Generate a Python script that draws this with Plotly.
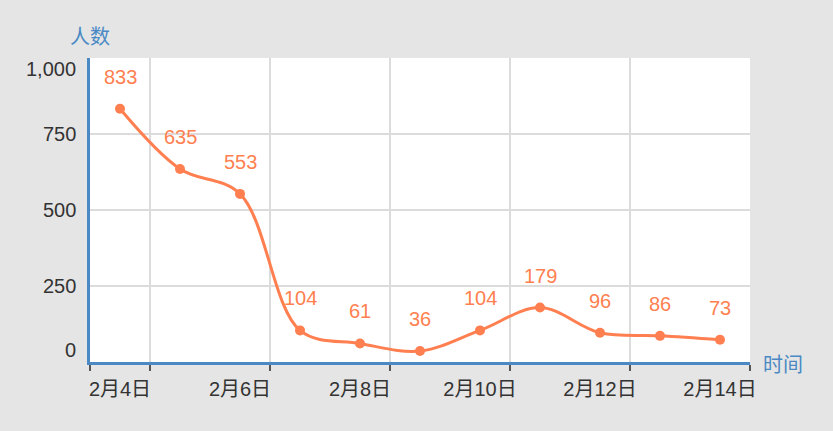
import plotly.graph_objects as go

# ---- data ----
dates = ["2月4日", "2月5日", "2月6日", "2月7日", "2月8日", "2月9日",
         "2月10日", "2月11日", "2月12日", "2月13日", "2月14日"]
counts = [833, 635, 553, 104, 61, 36, 104, 179, 96, 86, 73]
y_ticks = [0, 250, 500, 750, 1000]
y_tick_labels = ["0", "250", "500", "750", "1,000"]
y_name = "人数"
x_name = "时间"

# ---- styles ----
LINE = "#ff7f50"
AXIS = "#4a89c4"
GRID = "#dcdcdc"
TXT = "#333333"
FONT = "Liberation Sans, Arial, Noto Sans CJK SC, sans-serif"
FS = 20

idx = list(range(len(dates)))
label_pos = idx[::2]
label_txt = dates[::2]
minor_pos = [-0.5] + [i + 0.5 for i in range(0, len(dates), 2)]

fig = go.Figure()
fig.add_trace(go.Scatter(
    x=idx, y=counts, mode="lines+markers",
    line=dict(color=LINE, width=3, shape="spline", smoothing=1),
    marker=dict(color=LINE, size=10),
    hoverinfo="skip", showlegend=False,
))

annotations = []
for i, v in zip(idx, counts):
    annotations.append(dict(x=i, y=v, xref="x", yref="y", text=str(v),
                            showarrow=False, yshift=32,
                            font=dict(color=LINE, size=FS, family=FONT)))
for v, t in zip(y_ticks, y_tick_labels):
    shift = -11 if v == max(y_ticks) else (12 if v == min(y_ticks) else 0)
    annotations.append(dict(x=0, y=v, xref="paper", yref="y", text=t,
                            showarrow=False, xanchor="right", yanchor="middle",
                            xshift=-12, yshift=shift,
                            font=dict(color=TXT, size=FS, family=FONT)))
annotations.append(dict(x=0, y=1, xref="paper", yref="paper", text=y_name,
                        showarrow=False, xanchor="center", yanchor="middle",
                        yshift=21, font=dict(color=AXIS, size=FS, family=FONT)))
annotations.append(dict(x=1, y=0, xref="paper", yref="paper", text=x_name,
                        showarrow=False, xanchor="left", yanchor="middle",
                        xshift=11, yshift=-3, font=dict(color=AXIS, size=FS, family=FONT)))

fig.update_layout(
    width=833, height=431,
    margin=dict(l=90, r=83, t=58, b=69),
    paper_bgcolor="#e5e5e5", plot_bgcolor="#ffffff",
    font=dict(family=FONT, color=TXT, size=FS),
    annotations=annotations,
    xaxis=dict(
        range=[-0.5, len(dates) - 0.5],
        tickmode="array", tickvals=label_pos, ticktext=label_txt,
        ticks="outside", ticklen=7, tickcolor="rgba(0,0,0,0)",
        tickfont=dict(size=FS, color=TXT, family=FONT),
        showgrid=False, zeroline=False,
        showline=True, linecolor=AXIS, linewidth=3,
        minor=dict(tickmode="array", tickvals=minor_pos, ticks="outside",
                   ticklen=6, tickwidth=1.5, tickcolor="#555555",
                   showgrid=True, gridcolor=GRID, gridwidth=2),
        fixedrange=True,
    ),
    yaxis=dict(
        range=[0, 1000], tickmode="array", tickvals=y_ticks,
        showticklabels=False, ticks="",
        showgrid=True, gridcolor=GRID, gridwidth=2, zeroline=False,
        showline=True, linecolor=AXIS, linewidth=3,
        fixedrange=True,
    ),
)

fig.write_html("out.html", config={"displayModeBar": False},
               post_script="document.body.style.margin='0';")
